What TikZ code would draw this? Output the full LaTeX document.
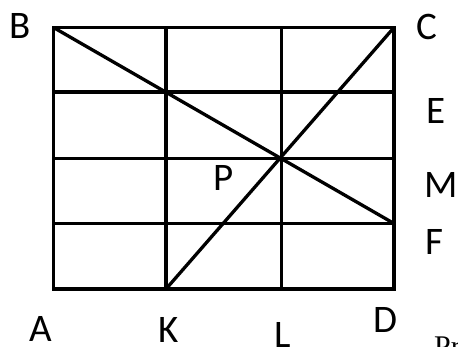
\documentclass[tikz,border=0pt]{standalone}
\usepackage{fontspec}
\setmainfont{Carlito}
\newfontfamily\serifcut{Liberation Serif}
\begin{document}
\begin{tikzpicture}[x=1pt,y=-1pt,
  gridline/.style={line width=3.3pt,line cap=rect},
  diag/.style={line width=3.3pt},
  lbl/.style={inner sep=0pt,font=\fontsize{39}{44}\selectfont}]
\useasboundingbox (0,0) rectangle (458,347);
\clip (0,0) rectangle (458,347);
% grid points
\coordinate (A) at (53.5,289);
\coordinate (K) at (166,289);
\coordinate (L) at (281.5,289);
\coordinate (D) at (394,289);
\coordinate (B) at (53.5,27.5);
\coordinate (T1) at (166,27.5);
\coordinate (T2) at (281.5,27.5);
\coordinate (C) at (394,27.5);
\coordinate (E) at (394,92);
\coordinate (M) at (394,158.5);
\coordinate (F) at (394,223.5);
\coordinate (E0) at (53.5,92);
\coordinate (M0) at (53.5,158.5);
\coordinate (F0) at (53.5,223.5);
% grid
\draw[gridline] (A) rectangle (C);
\draw[gridline] (K) -- (T1);
\draw[gridline] (L) -- (T2);
\draw[gridline] (E0) -- (E);
\draw[gridline] (M0) -- (M);
\draw[gridline] (F0) -- (F);
% diagonals
\draw[diag] (B) -- (F);
\draw[diag] (K) -- (C);
% labels
\node[lbl] (lB) at (20,26) {B};
\node[lbl] (lC) at (427,27) {C};
\node[lbl] (lE) at (436,111) {E};
\node[lbl] (lM) at (441,185) {M};
\node[lbl] (lF) at (434,242) {F};
\node[lbl] (lP) at (224,178) {P};
\node[lbl] (lA) at (41,329) {A};
\node[lbl] (lK) at (169,330) {K};
\node[lbl,anchor=north] (lL) at (283,322) {L};
\node[lbl] (lD) at (385,320) {D};
\node[inner sep=0pt,anchor=north west,font=\serifcut\fontsize{30}{34}\selectfont] (cut) at (434,337) {Pr};
\end{tikzpicture}
\end{document}
